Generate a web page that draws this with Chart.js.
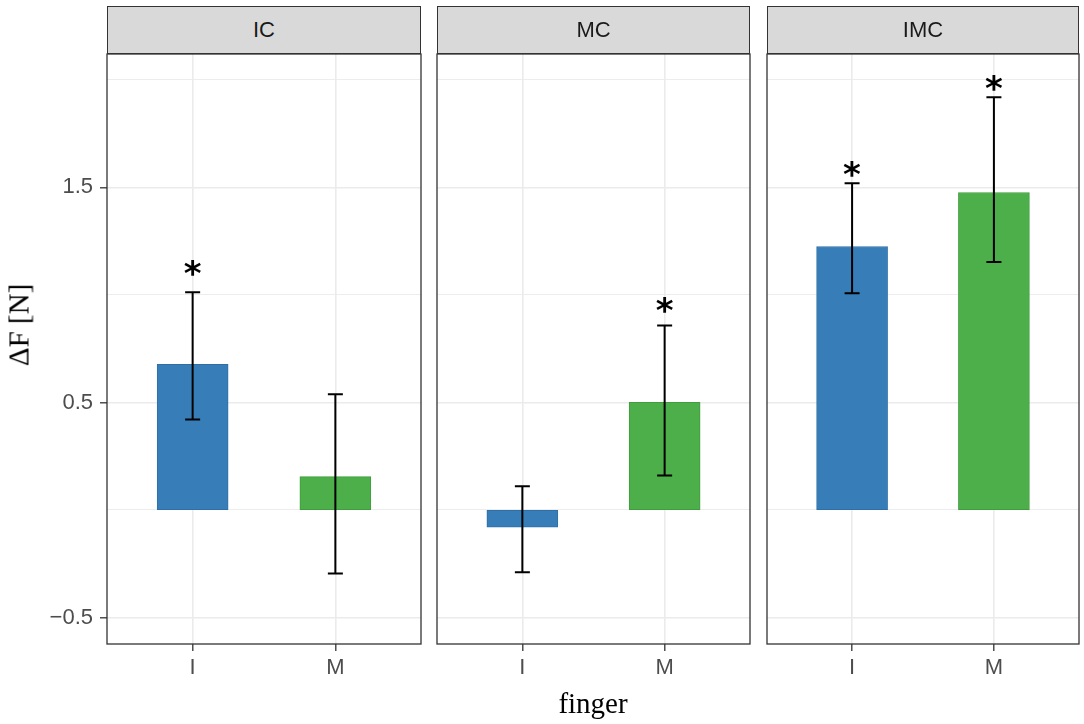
<!DOCTYPE html>
<html>
<head>
<meta charset="utf-8">
<script src="https://cdn.jsdelivr.net/npm/chart.js@4/dist/chart.umd.min.js"></script>
<style>
  body { margin: 0; background: #fff; }
  #wrap { position: relative; width: 1084px; height: 724px; overflow: hidden; }
  #wrap canvas { position: absolute; left: 0; top: 0; }
  .strip {
    position: absolute; top: 6px; height: 48px; box-sizing: border-box;
    background: #D9D9D9; border: 1.3px solid #333;
    font: 22px "Liberation Sans", Arial, sans-serif; color: #1A1A1A;
    display: flex; align-items: center; justify-content: center;
  }
  .ytitle {
    position: absolute; left: 19px; top: 325px;
    transform: translate(-50%, -50%) rotate(-90deg);
    font: 29px "Liberation Serif", "Times New Roman", serif; color: #000; white-space: nowrap;
  }
  .xtitle {
    position: absolute; left: 593px; top: 703px;
    transform: translate(-50%, -50%);
    font: 29px "Liberation Serif", "Times New Roman", serif; color: #000; white-space: nowrap;
  }
</style>
</head>
<body>
<div id="wrap">
  <div class="ytitle">ΔF [N]</div>
  <div class="xtitle">finger</div>
</div>
<script>
// facets and fingers
const panels = ['IC', 'MC', 'IMC'];
const fingers = ['I', 'M'];

// mean force change per panel
const meanI = [0.677, -0.08, 1.225];
const meanM = [0.155, 0.50, 1.476];
// error bar ends
const lowI = [0.421, -0.29, 1.008];
const highI = [1.012, 0.11, 1.519];
const lowM = [-0.295, 0.16, 1.153];
const highM = [0.538, 0.858, 1.919];
// significance stars (null = none)
const starI = [1.126, null, 1.584];
const starM = [null, 0.951, 1.984];

const yTicks = [-0.5, 0.5, 1.5];
const yMin = -0.623, yMax = 2.12;

const colors = ['#377EB8', '#4DAF4A'];
const borders = ['#2F6FA6', '#409C3E'];

// panel boxes: left / right edge on the page
const boxLeft = [107, 437, 767];
const boxRight = [421, 750, 1079];

Chart.defaults.font.family = '"Liberation Sans", Arial, sans-serif';

function fmt(v) {
  return v < 0 ? '\u2212' + Math.abs(v).toFixed(1) : v.toFixed(1);
}
function isMajor(v) {
  return yTicks.some(t => Math.abs(t - v) < 1e-6);
}

const panelPlugin = {
  id: 'panel',
  afterDatasetsDraw(chart, args, opts) {
    const { ctx, scales: { x, y } } = chart;
    const p = opts.index;
    const lows = [lowI[p], lowM[p]];
    const highs = [highI[p], highM[p]];
    const stars = [starI[p], starM[p]];
    ctx.save();
    ctx.strokeStyle = '#000';
    ctx.lineWidth = 2;
    for (let j = 0; j < fingers.length; j++) {
      const px = x.getPixelForValue(j + 1);
      const top = y.getPixelForValue(highs[j]);
      const bot = y.getPixelForValue(lows[j]);
      ctx.beginPath();
      ctx.moveTo(px, top); ctx.lineTo(px, bot);
      ctx.moveTo(px - 7.5, top); ctx.lineTo(px + 7.5, top);
      ctx.moveTo(px - 7.5, bot); ctx.lineTo(px + 7.5, bot);
      ctx.stroke();
      if (stars[j] !== null) {
        ctx.font = 'bold 34px "DejaVu Sans", sans-serif';
        ctx.fillStyle = '#000';
        ctx.textAlign = 'left';
        ctx.textBaseline = 'alphabetic';
        const m = ctx.measureText('*');
        const w = m.actualBoundingBoxRight + m.actualBoundingBoxLeft;
        const h = m.actualBoundingBoxAscent + m.actualBoundingBoxDescent;
        const sy = y.getPixelForValue(stars[j]);
        ctx.fillText('*', px - w / 2 + m.actualBoundingBoxLeft, sy - h / 2 + m.actualBoundingBoxAscent);
      }
    }
    ctx.restore();
  },
  afterDraw(chart) {
    const { ctx, chartArea: a } = chart;
    ctx.save();
    ctx.strokeStyle = '#333';
    ctx.lineWidth = 1.3;
    ctx.strokeRect(a.left, a.top, a.right - a.left, a.bottom - a.top);
    ctx.restore();
  }
};

const wrap = document.getElementById('wrap');

panels.forEach((name, p) => {
  const strip = document.createElement('div');
  strip.className = 'strip';
  strip.style.left = boxLeft[p] + 'px';
  strip.style.width = (boxRight[p] - boxLeft[p]) + 'px';
  strip.textContent = name;
  wrap.appendChild(strip);

  const canvas = document.createElement('canvas');
  canvas.width = 1084;
  canvas.height = 724;
  wrap.insertBefore(canvas, wrap.firstChild);

  const yw = p === 0 ? 107 : 0;

  new Chart(canvas, {
    type: 'bar',
    data: {
      datasets: [{
        data: fingers.map((f, j) => ({ x: j + 1, y: j === 0 ? meanI[p] : meanM[p] })),
        backgroundColor: colors,
        borderColor: borders,
        borderWidth: 1,
        borderSkipped: false,
        barThickness: 71
      }]
    },
    options: {
      responsive: false,
      animation: false,
      layout: {
        padding: { left: boxLeft[p] - yw, right: 1084 - boxRight[p], top: 54, bottom: 0 }
      },
      plugins: {
        legend: { display: false },
        tooltip: { enabled: false },
        panel: { index: p }
      },
      scales: {
        x: {
          type: 'linear',
          min: 0.4,
          max: 2.6,
          offset: false,
          afterBuildTicks(s) { s.ticks = fingers.map((f, j) => ({ value: j + 1 })); },
          afterFit(s) { s.height = 80; },
          ticks: {
            callback: v => fingers[Math.round(v) - 1],
            color: '#4D4D4D',
            font: { size: 22 },
            padding: 4,
            autoSkip: false,
            maxRotation: 0
          },
          grid: { color: '#EBEBEB', lineWidth: 1.6, offset: false, tickLength: 7, tickColor: '#333', tickWidth: 1.3 },
          border: { display: false }
        },
        y: {
          min: yMin,
          max: yMax,
          afterFit(s) { s.width = yw; },
          ticks: {
            display: p === 0,
            stepSize: 0.5,
            includeBounds: false,
            color: '#4D4D4D',
            font: { size: 22 },
            padding: 7,
            callback: v => isMajor(v) ? fmt(v) : ''
          },
          grid: {
            color: '#EBEBEB',
            lineWidth: c => isMajor(c.tick.value) ? 1.6 : 0.9,
            drawTicks: p === 0,
            tickLength: 7,
            tickWidth: 1.3,
            tickColor: c => isMajor(c.tick.value) ? '#333' : 'rgba(0,0,0,0)'
          },
          border: { display: false }
        }
      }
    },
    plugins: [panelPlugin]
  });
});
</script>
</body>
</html>
